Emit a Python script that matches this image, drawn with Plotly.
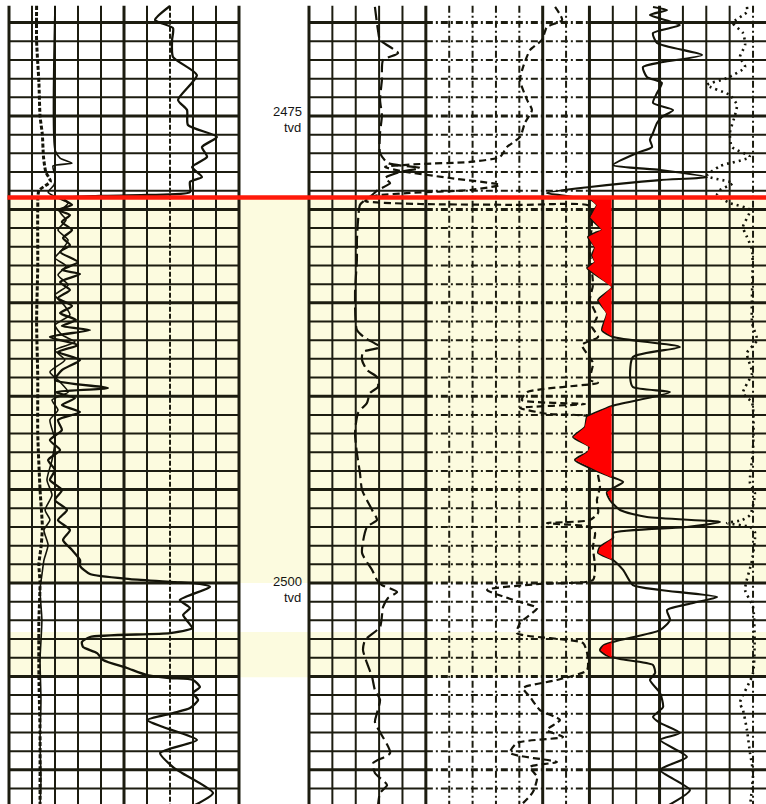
import numpy as np
import plotly.graph_objects as go

# ---------------- depth frame (tvd) ----------------
DEPTH_TOP = 2468.79
DEPTH_BOTTOM = 2511.83
GRID_START = 2469.1
depth_labels = [2475, 2500]
label_depths_num = [2474.74, 2499.90]
label_depths_tvd = [2475.62, 2500.78]

# highlighted intervals and marker
zone_tops = [2479.36, 2502.62]
zone_bases = [2500.0, 2505.05]
marker_depth = 2479.36
fill_cutoff = 12.95  # right-track division used as crossover baseline

# ---------------- left track (divisions 0-10) ----------------
l1_depth = [2469.1, 2471.0, 2473.2, 2475.0, 2476.0, 2477.2, 2478.0, 2478.5, 2479.0, 2480.0,
            2483.0, 2486.0, 2489.0, 2492.0, 2495.0, 2497.0, 2498.0, 2499.0, 2500.0, 2502.0,
            2505.0, 2508.0, 2510.0, 2512.0]
l1_val = [1.2, 1.2, 1.3, 1.35, 1.45, 1.5, 1.6, 1.8, 1.3, 1.25,
          1.25, 1.2, 1.25, 1.25, 1.35, 1.45, 1.4, 1.3, 1.35, 1.3,
          1.3, 1.35, 1.35, 1.35]

l2_depth = [2469.11, 2469.86, 2470.29, 2470.93, 2471.84, 2472.81, 2474.14, 2474.68, 2475.48, 2476.12,
            2476.66, 2477.19, 2477.73, 2478.27, 2478.53, 2479.07, 2479.23, 2479.28, 2479.39,
            2479.50, 2479.76, 2480.03, 2480.30, 2480.67, 2481.10, 2481.53, 2481.91, 2482.28, 2482.82,
            2483.24, 2483.46, 2483.89, 2484.31, 2484.74, 2485.17, 2485.55, 2485.92, 2486.24, 2486.46,
            2486.83, 2487.26, 2487.63, 2488.06, 2488.60, 2489.13, 2489.56, 2489.78, 2490.10, 2490.47,
            2490.85, 2491.27, 2491.81, 2492.35, 2492.88, 2493.42, 2493.95, 2494.49, 2495.02, 2495.56,
            2496.09, 2496.63, 2497.16, 2497.70, 2498.23, 2498.77, 2499.09, 2499.52, 2499.79, 2499.95,
            2500.05, 2500.21, 2500.91, 2501.34, 2501.71, 2502.41, 2502.68, 2502.89, 2503.16, 2503.43,
            2503.75, 2504.12, 2504.55, 2504.93, 2505.09, 2505.19, 2505.57, 2505.89, 2506.26, 2506.69,
            2506.96, 2507.33, 2507.71, 2508.40, 2509.10, 2509.85, 2510.17, 2511.24, 2511.94]
l2_val = [7.0, 6.35, 7.13, 7.09, 7.13, 8.17, 7.35, 7.74, 7.78, 9.04,
          8.39, 8.61, 7.96, 8.39, 7.87, 7.87, 6.0, 3.96, 2.43,
          2.43, 2.74, 2.13, 2.65, 2.30, 2.74, 2.35, 2.65, 2.22, 3.0,
          2.30, 3.09, 2.22, 2.65, 2.13, 2.74, 2.22, 2.91, 2.30, 3.52,
          1.78, 3.0, 2.13, 3.09, 2.30, 2.0, 4.30, 2.0, 2.87, 2.30,
          3.09, 2.13, 2.30, 1.78, 2.22, 1.70, 2.0, 1.78, 2.30, 2.0,
          2.52, 2.13, 2.65, 2.35, 2.74, 3.09, 3.09, 3.52, 5.26, 7.22,
          8.30, 8.74, 7.43, 7.87, 7.57, 7.96, 7.0, 3.52, 3.17, 3.22,
          3.83, 4.09, 5.13, 6.0, 7.0, 8.0, 8.30, 8.0, 8.22, 7.87,
          7.13, 6.0, 6.70, 8.17, 6.57, 7.13, 7.52, 8.87, 8.0]

l3_depth = [2469.11, 2476.82, 2477.25, 2477.52, 2477.68, 2478.16, 2478.69, 2479.07, 2479.39, 2479.66,
            2480.14, 2480.57, 2481.10, 2481.64, 2482.17, 2482.60, 2483.03, 2483.51, 2484.05, 2484.58,
            2485.12, 2485.65, 2486.19, 2486.72, 2487.10, 2487.53, 2488.06, 2488.70, 2489.24, 2489.78,
            2490.20, 2490.74, 2491.27, 2492.35, 2493.42, 2494.49, 2495.29, 2496.09, 2496.63, 2497.16,
            2497.97, 2498.77, 2499.57, 2500.37, 2501.98, 2504.12, 2506.26, 2508.40, 2510.55, 2511.94]
l3_val = [2.0, 2.0, 2.22, 2.74, 1.91, 2.0, 1.96, 1.70, 2.13, 2.57,
          2.22, 2.48, 2.13, 2.57, 2.30, 2.0, 2.48, 2.13, 2.57, 2.0,
          2.39, 2.65, 2.0, 2.30, 2.87, 2.0, 2.43, 1.78, 2.22, 2.57,
          1.87, 2.13, 1.78, 2.0, 1.87, 1.65, 1.87, 1.57, 1.78, 1.52,
          1.70, 1.52, 1.43, 1.35, 1.43, 1.35, 1.39, 1.35, 1.39, 1.35]

# ---------------- right track (divisions 0-19.5) ----------------
r1_depth = [2469.16, 2470.40, 2470.93, 2471.63, 2472.00, 2473.07, 2474.14, 2474.95, 2475.91, 2476.98,
            2477.52, 2477.78, 2478.00, 2478.32, 2478.59, 2478.96, 2479.23, 2479.50, 2479.76, 2480.57,
            2481.64, 2482.71, 2484.47, 2486.46, 2486.88, 2487.37, 2487.63, 2488.06, 2488.60, 2488.97,
            2489.51, 2489.83, 2490.36, 2490.90, 2491.97, 2493.04, 2494.11, 2495.02, 2496.09, 2496.63,
            2497.00, 2498.39, 2499.30, 2499.84, 2500.11, 2500.48, 2500.80, 2501.28, 2502.35, 2503.05,
            2503.59, 2504.28, 2505.03, 2505.73, 2506.26, 2506.96, 2507.44, 2509.10, 2509.64, 2510.17,
            2510.81, 2511.24, 2511.94]
r1_val = [2.82, 2.95, 3.04, 3.81, 3.17, 3.12, 3.04, 3.12, 3.04, 3.04,
          3.38, 4.75, 3.89, 3.25, 3.47, 2.95, 2.70, 2.40, 2.18, 2.10,
          2.05, 2.05, 1.97, 2.05, 2.40, 3.04, 2.31, 2.27, 2.48, 2.91,
          2.95, 2.61, 2.48, 2.10, 1.97, 2.05, 2.18, 2.27, 2.70, 2.91,
          2.48, 2.27, 2.70, 2.91, 3.12, 3.77, 3.38, 3.17, 3.04, 2.40,
          2.31, 2.48, 2.70, 2.82, 3.04, 2.91, 2.82, 3.47, 2.74, 2.82,
          3.34, 3.04, 2.95]

r2_depth = [2469.16, 2469.86, 2470.24, 2470.93, 2471.47, 2472.38, 2473.07, 2474.14, 2474.68, 2475.37,
            2476.12, 2476.66, 2477.19, 2477.46, 2477.57, 2477.73, 2477.94, 2478.32, 2478.69, 2478.96,
            2479.12, 2479.28, 2479.55, 2479.71, 2479.76, 2479.82, 2480.57, 2482.17, 2484.05, 2484.85,
            2485.76, 2486.29, 2486.83, 2487.26, 2488.22, 2489.13, 2489.29, 2489.78, 2490.20, 2490.42,
            2490.63, 2490.95, 2491.11, 2491.81, 2494.22, 2494.86, 2495.56, 2496.25, 2496.63, 2496.79,
            2497.00, 2497.32, 2498.07, 2499.14, 2499.84, 2500.05, 2500.37, 2501.02, 2501.34, 2502.14,
            2502.68, 2503.21, 2503.75, 2504.66, 2505.19, 2505.62, 2506.10, 2506.80, 2507.33, 2507.87,
            2508.24, 2508.56, 2509.10, 2509.58, 2509.85, 2510.39, 2511.19, 2511.94]
r2_val = [10.53, 10.83, 10.18, 9.97, 9.46, 9.16, 9.03, 9.33, 9.54, 9.24,
          9.03, 8.47, 8.17, 6.89, 4.75, 3.25, 3.89, 6.03, 8.17, 6.89,
          4.32, 2.82, 2.40, 4.75, 9.03, 12.02, 12.11, 12.02, 12.15, 12.02,
          12.32, 12.11, 12.37, 11.68, 12.15, 12.02, 12.37, 9.33, 9.11, 11.81,
          9.03, 10.23, 12.02, 12.24, 12.37, 12.45, 12.32, 12.37, 12.02, 10.18,
          12.02, 12.24, 12.15, 12.24, 12.15, 9.88, 7.62, 9.03, 9.76, 9.03,
          8.90, 11.72, 11.90, 11.90, 10.61, 9.16, 9.46, 9.88, 10.74, 10.18,
          10.87, 8.90, 8.60, 10.61, 9.46, 9.76, 9.58, 9.03]

r3_depth = [2469.16, 2469.33, 2469.59, 2470.13, 2470.56, 2471.09, 2471.73, 2472.11, 2472.38, 2472.91,
            2473.23, 2473.77, 2474.30, 2474.68, 2475.05, 2475.37, 2475.91, 2476.28, 2476.66, 2476.98,
            2477.62, 2477.89, 2478.27, 2478.43, 2478.80, 2479.12, 2479.34, 2479.44, 2479.76, 2480.41,
            2481.10, 2481.26, 2481.48, 2482.01, 2482.44, 2482.82, 2483.14, 2484.15, 2484.85, 2485.55,
            2486.46, 2486.83, 2487.37, 2487.90, 2488.97, 2489.51, 2489.78, 2490.52, 2490.74, 2491.11,
            2491.65, 2492.18, 2492.72, 2492.98, 2493.41, 2493.84, 2494.33, 2494.59, 2495.13, 2495.56,
            2496.09, 2496.47, 2496.73, 2497.00, 2497.32, 2497.59, 2498.07, 2498.39, 2498.77, 2499.30,
            2500.11, 2500.37, 2500.75, 2501.07, 2501.45, 2501.98, 2502.52, 2503.05, 2503.32, 2503.59,
            2503.86, 2504.07, 2504.39, 2504.82, 2505.19, 2505.89, 2506.64, 2507.17, 2507.49, 2508.03,
            2508.40, 2509.31, 2510.01, 2511.08, 2511.94]
r3_val = [14.72, 15.32, 14.59, 15.87, 14.72, 14.89, 16.82, 15.15, 14.29, 14.46,
          15.10, 14.89, 14.72, 15.58, 15.10, 14.89, 14.72, 14.59, 14.68, 14.04,
          13.01, 15.02, 17.03, 15.02, 12.02, 10.18, 11.38, 12.02, 12.32, 12.02,
          12.54, 12.24, 11.94, 12.24, 12.11, 12.24, 11.90, 12.97, 12.37, 12.75,
          12.54, 13.01, 15.87, 13.86, 13.74, 13.86, 15.45, 12.97, 12.54, 11.90,
          11.81, 11.30, 12.02, 11.94, 11.38, 12.02, 12.97, 13.44, 12.75, 12.88,
          13.31, 14.46, 17.59, 16.17, 13.01, 13.01, 12.45, 12.37, 13.01, 13.44,
          13.86, 15.02, 17.46, 16.43, 15.32, 15.45, 15.02, 13.31, 12.62, 12.45,
          12.71, 13.31, 14.72, 14.81, 14.59, 15.02, 15.15, 14.72, 15.02, 15.87,
          15.02, 16.17, 15.02, 16.30, 15.32]

r4_depth = [2469.16, 2469.43, 2470.02, 2470.56, 2471.20, 2471.84, 2472.38, 2472.97, 2473.34, 2473.88,
            2474.41, 2474.95, 2475.91, 2476.66, 2477.19, 2477.68, 2478.21, 2478.59, 2478.96, 2479.23,
            2479.66, 2480.03, 2480.94, 2481.48, 2482.17, 2486.08, 2486.99, 2487.69, 2488.76, 2489.83,
            2490.36, 2492.88, 2494.65, 2495.18, 2496.36, 2496.63, 2496.79, 2497.00, 2497.27, 2498.77,
            2500.37, 2501.28, 2504.82, 2506.42, 2506.80, 2507.87, 2509.10, 2510.17, 2511.94]
r4_val = [18.74, 18.74, 18.14, 18.57, 18.66, 18.44, 18.66, 17.89, 17.03, 18.01,
          18.31, 18.23, 18.01, 18.10, 18.87, 17.59, 17.03, 18.14, 17.59, 17.46,
          18.01, 18.87, 18.57, 18.74, 18.96, 18.96, 19.17, 18.74, 18.96, 18.57,
          18.96, 19.0, 18.87, 19.08, 18.87, 18.53, 17.89, 18.87, 19.08, 18.96,
          18.66, 19.0, 19.0, 18.44, 18.57, 18.74, 18.87, 19.0, 18.87]

# ---------------- styling ----------------
INK = "#141409"
GRID = "#1c1c10"
YELLOW = "#fcfbdf"
RED = "#ff1a0a"
FILL_RED = "#ff0000"
W, H = 766, 804
LEFT_RANGE = [-0.2, 10.2]
RIGHT_RANGE = [-0.2, 19.555]

fig = go.Figure()

def curve(x, y, axis, width, dash=None):
    fig.add_trace(go.Scatter(x=x, y=y, mode="lines", xaxis=axis, yaxis="y",
                             line=dict(color=INK, width=width, dash=dash, shape="spline", smoothing=0.6),
                             hoverinfo="skip", showlegend=False))

curve(l1_val, l1_depth, "x", 3.0, "4px,2px")
curve(l3_val, l3_depth, "x", 1.6)
curve(l2_val, l2_depth, "x", 2.3)
curve(r1_val, r1_depth, "x2", 2.2, "13px,5px")
curve(r2_val, r2_depth, "x2", 2.2, "7px,4px")
curve(r4_val, r4_depth, "x2", 2.6, "2px,4px")
curve(r3_val, r3_depth, "x2", 2.1)

# crossover shading inside the highlighted intervals
for zt, zb in zip(zone_tops, zone_bases):
    dd = np.linspace(zt, zb, 600)
    vv = np.minimum(np.interp(dd, r3_depth, r3_val), fill_cutoff)
    xs = np.concatenate([vv, np.full(dd.size, fill_cutoff)])
    ys = np.concatenate([dd, dd[::-1]])
    fig.add_trace(go.Scatter(x=xs, y=ys, mode="lines", fill="toself", fillcolor=FILL_RED,
                             line=dict(width=0, color=FILL_RED), xaxis="x2", yaxis="y",
                             hoverinfo="skip", showlegend=False))

shapes = []
# highlighted intervals
for zt, zb in zip(zone_tops, zone_bases):
    shapes.append(dict(type="rect", xref="paper", yref="y", x0=7.5 / W, x1=1.0, y0=zt, y1=zb,
                       fillcolor=YELLOW, line=dict(width=0), layer="below"))

DASHDOT = "7px,3px,2px,3px"
# vertical grid, left track
for i in range(11):
    w = 3.0 if i in (0, 5, 10) else 2.0
    dash = "5px,2px" if i == 7 else "solid"
    shapes.append(dict(type="line", xref="x", yref="y", x0=i, x1=i, y0=GRID_START, y1=DEPTH_BOTTOM + 1,
                       line=dict(color=GRID, width=w, dash=dash), layer="below"))
# vertical grid, right track
for i in range(20):
    w = 3.0 if i in (0, 5, 10, 12, 15) else 2.0
    dash = DASHDOT if i in (6, 7, 8, 9, 11, 19) else "solid"
    shapes.append(dict(type="line", xref="x2", yref="y", x0=i, x1=i, y0=GRID_START, y1=DEPTH_BOTTOM + 1,
                       line=dict(color=GRID, width=w, dash=dash), layer="below"))
# horizontal grid
for d in range(2470, 2512):
    w = 3.0 if d % 5 == 0 else 2.0
    shapes.append(dict(type="line", xref="x", yref="y", x0=0, x1=10, y0=d, y1=d,
                       line=dict(color=GRID, width=w), layer="below"))
    for a, b, dash in [(0, 5, "solid"), (5, 12, DASHDOT), (12, 20, "solid")]:
        shapes.append(dict(type="line", xref="x2", yref="y", x0=a, x1=b, y0=d, y1=d,
                           line=dict(color=GRID, width=w, dash=dash), layer="below"))
# marker line
shapes.append(dict(type="line", xref="paper", yref="y", x0=7.5 / W, x1=1.0, y0=marker_depth, y1=marker_depth,
                   line=dict(color=RED, width=4.5), layer="above"))

annotations = []
FONT = "Liberation Sans Narrow, Arial Narrow, Liberation Sans, Arial, sans-serif"
for lab, dn, dt in zip(depth_labels, label_depths_num, label_depths_tvd):
    annotations.append(dict(text=str(lab), xref="paper", yref="y", x=304 / W, y=dn,
                            xanchor="right", yanchor="middle", showarrow=False,
                            font=dict(family=FONT, size=13, color="#141414")))
    annotations.append(dict(text="tvd", xref="paper", yref="y", x=303 / W, y=dt,
                            xanchor="right", yanchor="middle", showarrow=False,
                            font=dict(family=FONT, size=13, color="#141414")))

left_dom = [(9 + LEFT_RANGE[0] * 23) / W, (9 + LEFT_RANGE[1] * 23) / W]
right_dom = [(309 + RIGHT_RANGE[0] * 23.37) / W, 1.0]

fig.update_layout(
    width=W, height=H, margin=dict(l=0, r=0, t=0, b=0),
    paper_bgcolor="white", plot_bgcolor="white", showlegend=False,
    shapes=shapes, annotations=annotations,
    xaxis=dict(domain=left_dom, range=LEFT_RANGE, visible=False, showgrid=False, zeroline=False),
    xaxis2=dict(domain=right_dom, range=RIGHT_RANGE, anchor="y", visible=False, showgrid=False, zeroline=False),
    yaxis=dict(domain=[0, 1], range=[DEPTH_BOTTOM, DEPTH_TOP], visible=False, showgrid=False, zeroline=False),
)

fig.write_html("out.html")
